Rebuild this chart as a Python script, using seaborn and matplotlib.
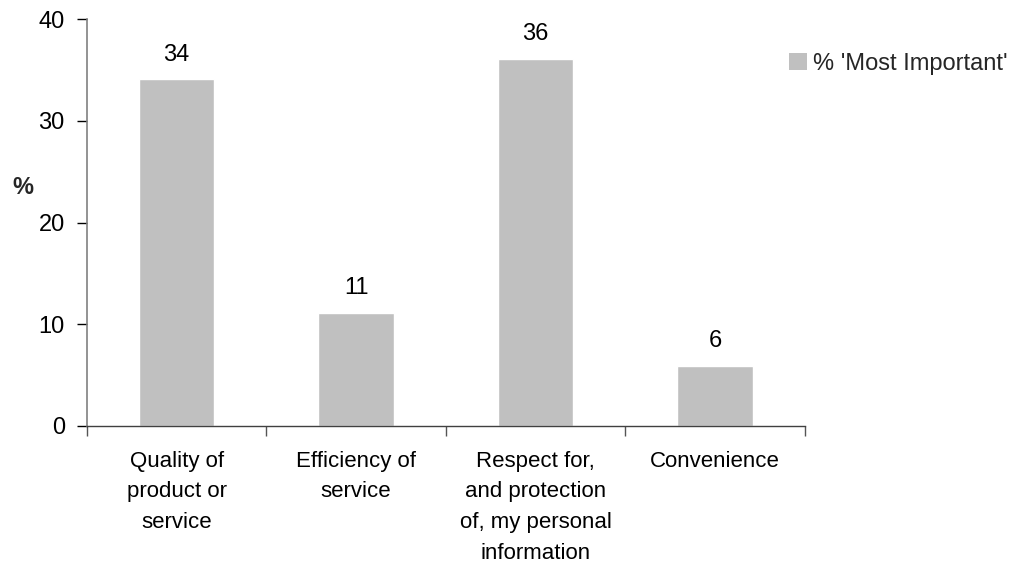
import matplotlib
matplotlib.use("Agg")
import matplotlib.pyplot as plt
import seaborn as sns
import pandas as pd
from matplotlib.patches import Patch

categories = ["Quality of\nproduct or\nservice", "Efficiency of\nservice",
              "Respect for,\nand protection\nof, my personal\ninformation", "Convenience"]
values = [34.1, 11.1, 36.1, 5.9]
labels = ["34", "11", "36", "6"]
series_name = "% 'Most Important'"
yticks = [0, 10, 20, 30, 40]

sns.set_theme(style="white")
plt.rcParams['font.family'] = ['Liberation Sans', 'DejaVu Sans']

df = pd.DataFrame({"cat": categories, "val": values})

fig = plt.figure(figsize=(10.33, 5.69), dpi=100)
ax = fig.add_axes([0.0842, 0.2518, 0.6948, 0.7142])
sns.barplot(data=df, x="cat", y="val", color="#C0C0C0", saturation=1, width=0.42, ax=ax)

ax.set_ylim(0, 40)
ax.set_xlim(-0.5, len(categories) - 0.5)
ax.set_yticks(yticks)
ax.set_yticklabels([str(t) for t in yticks], fontsize=17, color="black")
ax.set_xticks(range(len(categories)))
ax.set_xticklabels(categories, fontsize=16, color="black", linespacing=1.6)
ax.tick_params(axis="x", length=0, pad=18)
ax.tick_params(axis="y", length=7, width=1, color="black", direction="out", pad=9, left=True)
# category boundary ticks
ax.set_xticks([i - 0.5 for i in range(len(categories) + 1)], minor=True)
ax.tick_params(axis="x", which="minor", length=7, width=1, color="#555555", direction="out", bottom=True)

for s in ["top", "right"]:
    ax.spines[s].set_visible(False)
ax.spines["left"].set_color("#808080")
ax.spines["bottom"].set_color("#404040")
ax.spines["left"].set_linewidth(1.2)
ax.spines["bottom"].set_linewidth(1.0)

ax.set_xlabel("")
ax.set_ylabel("")
fig.text(0.0116, 0.671, "%", fontsize=17, fontweight="bold", ha="left", va="center")

for i, (v, lab) in enumerate(zip(values, labels)):
    ax.annotate(lab, xy=(i, v), xytext=(0, 13.5), textcoords="offset points",
                ha="center", va="baseline", fontsize=17, color="black")

handle = Patch(facecolor="#C0C0C0", edgecolor="none")
fig.legend([handle], [series_name], loc="center left", bbox_to_anchor=(789 / 1033, 1 - 64 / 569),
           frameon=False, fontsize=17, handlelength=0.75, handleheight=0.75,
           handletextpad=0.25, borderpad=0, borderaxespad=0)

fig.savefig("out.png", dpi=100, facecolor="white")
